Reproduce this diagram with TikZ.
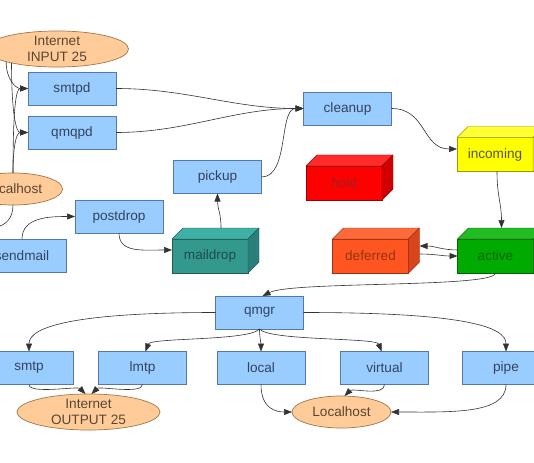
\documentclass[tikz,border=0pt]{standalone}
\usepackage{fontspec}
\setmainfont{Liberation Sans}
\usetikzlibrary{arrows.meta,shapes.geometric}
\definecolor{boxfill}{HTML}{99CCFF}
\definecolor{boxdraw}{HTML}{5577AA}
\definecolor{boxtext}{HTML}{34445E}
\definecolor{elfill}{HTML}{FFCC99}
\definecolor{eldraw}{HTML}{A0764A}
\definecolor{eltext}{HTML}{5A4535}
\definecolor{edgecol}{HTML}{333333}
\definecolor{mdfront}{HTML}{33998F}
\definecolor{mdtop}{HTML}{3FB0A5}
\definecolor{mdside}{HTML}{2B7F7A}
\definecolor{mdtext}{HTML}{1E4D4D}
\definecolor{hdfront}{HTML}{FF0000}
\definecolor{hdtop}{HTML}{FF2A2A}
\definecolor{hdside}{HTML}{D00000}
\definecolor{hdtext}{HTML}{992222}
\definecolor{dffront}{HTML}{FF5520}
\definecolor{dftop}{HTML}{FF6A3A}
\definecolor{dfside}{HTML}{D9441A}
\definecolor{dftext}{HTML}{993311}
\definecolor{icfront}{HTML}{FFFF00}
\definecolor{ictop}{HTML}{FFFF33}
\definecolor{icside}{HTML}{DDDD00}
\definecolor{ictext}{HTML}{555533}
\definecolor{acfront}{HTML}{00AA00}
\definecolor{actop}{HTML}{22BB22}
\definecolor{acside}{HTML}{008C00}
\definecolor{actext}{HTML}{006600}
\newcommand\cubenode[8]{%
  \node[cubeface, fill=#5, draw=#5!60!black, text=#8] (#1) at (#2,#3) {#4};
  \filldraw[fill=#6, draw=#5!60!black, line join=round] (#1.north west) -- ++(11,-11) -- ++(76,0) -- (#1.north east) -- cycle;
  \filldraw[fill=#7, draw=#5!60!black, line join=round] (#1.north east) -- ++(11,-11) -- ++(0,34) -- (#1.south east) -- cycle;
}
\begin{document}
\begin{tikzpicture}[x=1pt,y=-1pt,
  font=\fontsize{13.6}{16}\selectfont,
  procbox/.style={rectangle, fill=boxfill, draw=boxdraw, text=boxtext, minimum width=88pt, minimum height=33pt, inner sep=0pt, outer sep=0pt, line width=0.7pt},
  cubeface/.style={rectangle, minimum width=76pt, minimum height=34pt, inner sep=0pt, outer sep=0pt, line width=0.7pt},
  ovalnode/.style={ellipse, fill=elfill, draw=eldraw, text=eltext, inner sep=0pt, outer sep=0pt, minimum height=32pt, align=center, line width=0.7pt},
  conn/.style={draw=edgecol, line width=0.6pt},
  arrconn/.style={conn, -{Triangle[length=8pt,width=6pt]}}]
\clip (0,0) rectangle (534,462);
\fill[white] (0,0) rectangle (534,462);
% ellipses
\node[ovalnode, minimum width=143pt] (in25) at (57,49) {Internet\\INPUT 25};
\node[ovalnode, minimum width=99pt] (lhl) at (13,189) {Localhost};
\node[ovalnode, minimum width=143pt] (out25) at (88.5,412) {Internet\\OUTPUT 25};
\node[ovalnode, minimum width=99pt] (lh) at (341.5,412) {Localhost};
\coordinate (offl) at (-3,227);
% boxes
\node[procbox] (smtpd) at (72,88.5) {smtpd};
\node[procbox] (qmqpd) at (72,132.5) {qmqpd};
\node[procbox] (sendmail) at (22,255.5) {sendmail};
\node[procbox] (postdrop) at (119,216.5) {postdrop};
\node[procbox] (pickup) at (217.5,177) {pickup};
\node[procbox] (cleanup) at (347.5,108.5) {cleanup};
\node[procbox] (qmgr) at (259.5,312.5) {qmgr};
\node[procbox] (smtp) at (29,368) {smtp};
\node[procbox] (lmtp) at (142.5,368) {lmtp};
\node[procbox] (local) at (261,368) {local};
\node[procbox] (virtual) at (384.5,368) {virtual};
\node[procbox] (pipe) at (506,368) {pipe};
% cubes
\cubenode{maildrop}{210}{256}{maildrop}{mdfront}{mdtop}{mdside}{mdtext}
\cubenode{hold}{344}{183}{hold}{hdfront}{hdtop}{hdside}{hdtext}
\cubenode{deferred}{370.5}{256}{deferred}{dffront}{dftop}{dfside}{dftext}
\cubenode{incoming}{495}{154.5}{incoming}{icfront}{ictop}{icside}{ictext}
\cubenode{active}{495.5}{256}{active}{acfront}{actop}{acside}{actext}
% connectors
\draw[arrconn] (in25.194) .. controls +(0,18) and +(-12,0) .. (smtpd.west);
\draw[arrconn] (in25.197) .. controls +(0,50) and +(-12,0) .. (qmqpd.west);
\draw[arrconn] (lhl.north) .. controls +(0,-25) and +(-12,0) .. (qmqpd.west);
\draw[arrconn] (lhl.north) .. controls +(0,-65) and +(-12,0) .. (smtpd.west);
\draw[conn] (lhl.south) .. controls +(0,14) and +(8,-2) .. (offl);
\draw[arrconn] (sendmail.north) .. controls +(0,-22) and +(-25,0) .. (postdrop.west);
\draw[arrconn] (postdrop.south) .. controls +(0,20) and +(-30,0) .. ([yshift=6pt]maildrop.west);
\draw[arrconn] ([shift={(11pt,11pt)}]maildrop.north) .. controls +(0,-15) and +(0,15) .. (pickup.south);
\draw[arrconn] (pickup.east) .. controls +(28,0) and +(-25,0) .. (cleanup.west);
\draw[arrconn] (smtpd.east) .. controls +(70,0) and +(-70,0) .. (cleanup.west);
\draw[arrconn] (qmqpd.east) .. controls +(70,0) and +(-70,0) .. (cleanup.west);
\draw[arrconn] (cleanup.east) .. controls +(35,0) and +(-35,0) .. ([yshift=5.5pt]incoming.west);
\draw[arrconn] ([xshift=2pt]incoming.south) .. controls +(0,25) and +(0,-25) .. ([shift={(6pt,11pt)}]active.north);
\draw[arrconn] ([yshift=6pt]active.west) .. controls +(-15,0) and +(15,0) .. ([shift={(11pt,10pt)}]deferred.east);
\draw[arrconn] ([shift={(11pt,2pt)}]deferred.east) .. controls +(15,0) and +(-15,0) .. (active.west);
\draw[arrconn] (active.south) .. controls +(0,15) and +(30,-15) .. ([xshift=3pt]qmgr.north);
\draw[arrconn] (qmgr.west) .. controls +(-140,0) and +(0,-25) .. (smtp.north);
\draw[arrconn] (qmgr.south) .. controls +(-10,12) and +(5,-14) .. ([xshift=3pt]lmtp.north);
\draw[arrconn] (qmgr.south) .. controls +(0,8) and +(0,-8) .. (local.north);
\draw[arrconn] (qmgr.south) .. controls +(10,12) and +(-5,-14) .. ([xshift=-3pt]virtual.north);
\draw[arrconn] (qmgr.east) .. controls +(160,0) and +(0,-25) .. (pipe.north);
\draw[arrconn] (smtp.south) .. controls +(0,10) and +(-8,-8) .. ([xshift=-3pt]out25.north);
\draw[arrconn] (lmtp.south) .. controls +(0,10) and +(8,-8) .. ([xshift=3pt]out25.north);
\draw[arrconn] (local.south) .. controls +(0,25) and +(-15,0) .. (lh.west);
\draw[arrconn] (virtual.south) .. controls +(0,12) and +(8,-8) .. ([xshift=3pt]lh.north);
\draw[arrconn] (pipe.south) .. controls +(0,30) and +(60,0) .. (lh.east);
\end{tikzpicture}
\end{document}
